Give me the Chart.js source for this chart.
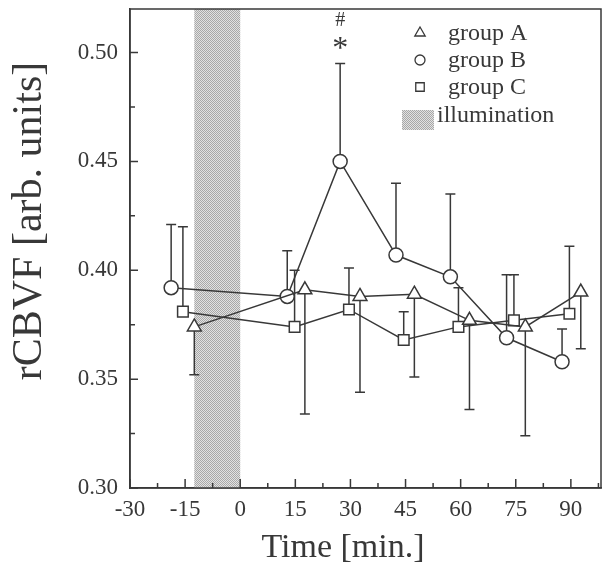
<!DOCTYPE html>
<html>
<head>
<meta charset="utf-8">
<script src="https://cdn.jsdelivr.net/npm/chart.js@4.4.1/dist/chart.umd.min.js"></script>
<style>
  html, body { margin: 0; padding: 0; background: #fff; }
  canvas { display: block; }
</style>
</head>
<body>
<canvas id="chart" width="605" height="568"></canvas>
<script>
// group A (triangles), error bars point down
const timesA = [-12.5, 17.6, 32.6, 47.4, 62.4, 77.6, 92.7];
const valuesA = [0.374, 0.391, 0.388, 0.389, 0.377, 0.374, 0.390];
const errEndA = [0.352, 0.334, 0.344, 0.351, 0.336, 0.324, 0.364];

// group B (circles), error bars point up
const timesB = [-18.8, 12.8, 27.2, 42.4, 57.2, 72.5, 87.6];
const valuesB = [0.392, 0.388, 0.450, 0.407, 0.397, 0.369, 0.358];
const errEndB = [0.421, 0.409, 0.495, 0.440, 0.435, 0.398, 0.373];

// group C (squares), error bars point up
const timesC = [-15.6, 14.8, 29.6, 44.5, 59.4, 74.5, 89.6];
const valuesC = [0.381, 0.374, 0.382, 0.368, 0.374, 0.377, 0.380];
const errEndC = [0.420, 0.400, 0.401, 0.381, 0.392, 0.398, 0.411];

// illumination period (min)
const illumination = [-12.5, 0];

// axes
const xTicks = [-30, -15, 0, 15, 30, 45, 60, 75, 90];
const yTicks = [0.30, 0.35, 0.40, 0.45, 0.50];
const xRange = [-30, 98.2];
const yRange = [0.30, 0.52];

const ink = '#383838';
const serif = 'Liberation Serif';

function toPoints(xs, ys) {
    return xs.map((x, i) => ({ x: x, y: ys[i] }));
}

// dotted gray fill for the illumination band
function makePattern(ctx) {
    const c = document.createElement('canvas');
    c.width = 2; c.height = 2;
    const p = c.getContext('2d');
    p.fillStyle = '#e2e2e2';
    p.fillRect(0, 0, 2, 2);
    p.fillStyle = '#a8a8a8';
    p.fillRect(0, 0, 1, 1);
    p.fillRect(1, 1, 1, 1);
    return ctx.createPattern(c, 'repeat');
}

const errorSets = [errEndA, errEndB, errEndC];

const figurePlugin = {
    id: 'figure',
    beforeDatasetsDraw(chart) {
        const { ctx, chartArea: a, scales: { x, y } } = chart;
        // illumination band
        const x0 = x.getPixelForValue(illumination[0]);
        const x1 = x.getPixelForValue(illumination[1]);
        ctx.save();
        ctx.fillStyle = makePattern(ctx);
        ctx.fillRect(x0, a.top, x1 - x0, a.bottom - a.top);
        ctx.restore();

        // error bars
        ctx.save();
        ctx.strokeStyle = ink;
        ctx.lineWidth = 1.5;
        chart.data.datasets.forEach((ds, di) => {
            ds.data.forEach((pt, i) => {
                const px = x.getPixelForValue(pt.x);
                const py = y.getPixelForValue(pt.y);
                const pe = y.getPixelForValue(errorSets[di][i]);
                ctx.beginPath();
                ctx.moveTo(px, py);
                ctx.lineTo(px, pe);
                ctx.moveTo(px - 5, pe);
                ctx.lineTo(px + 5, pe);
                ctx.stroke();
            });
        });
        ctx.restore();
    },
    afterDraw(chart) {
        const { ctx, chartArea: a, scales: { x, y } } = chart;
        ctx.save();
        ctx.strokeStyle = ink;
        ctx.lineWidth = 1.5;
        // frame
        ctx.strokeRect(a.left, a.top, a.right - a.left, a.bottom - a.top);

        // inward tick marks, minor ones halfway between labels
        ctx.beginPath();
        xTicks.forEach(v => {
            const px = x.getPixelForValue(v);
            ctx.moveTo(px, a.bottom); ctx.lineTo(px, a.bottom - 9);
            const mid = v + 7.5;
            if (mid < xRange[1]) {
                const pm = x.getPixelForValue(mid);
                ctx.moveTo(pm, a.bottom); ctx.lineTo(pm, a.bottom - 5);
            }
        });
        yTicks.forEach(v => {
            const py = y.getPixelForValue(v);
            ctx.moveTo(a.left, py); ctx.lineTo(a.left + 8, py);
            const mid = v + 0.025;
            if (mid < yRange[1]) {
                const pm = y.getPixelForValue(mid);
                ctx.moveTo(a.left, pm); ctx.lineTo(a.left + 5, pm);
            }
        });
        ctx.stroke();

        // axis titles (placed as in the figure, not centred on the plot)
        ctx.fillStyle = ink;
        ctx.textAlign = 'center';
        ctx.textBaseline = 'middle';
        ctx.font = '34px ' + serif;
        ctx.fillText('Time [min.]', 343, 548);
        ctx.save();
        ctx.translate(30, 221);
        ctx.rotate(-Math.PI / 2);
        ctx.font = '42px ' + serif;
        ctx.fillText('rCBVF [arb. units]', 0, 0);
        ctx.restore();

        // significance marks above group B peak
        const peakX = x.getPixelForValue(timesB[2]);
        ctx.font = '32px ' + serif;
        ctx.fillText('*', peakX, 50);
        ctx.font = '20px ' + serif;
        ctx.fillText('#', peakX, 21);

        // legend
        const lx = 420, tx = 448;
        const rows = [
            { style: 'triangle', r: 6, label: 'group A', y: 33 },
            { style: 'circle', r: 5, label: 'group B', y: 60 },
            { style: 'rect', r: 6, label: 'group C', y: 87 }
        ];
        ctx.font = '24px ' + serif;
        ctx.textAlign = 'left';
        rows.forEach(r => {
            ctx.fillStyle = '#fff';
            ctx.strokeStyle = ink;
            ctx.lineWidth = 1.3;
            Chart.helpers.drawPoint(ctx, { pointStyle: r.style, radius: r.r, rotation: 0, borderWidth: 1.3 }, lx, r.y);
            ctx.fillStyle = ink;
            ctx.fillText(r.label, tx, r.y + 1);
        });
        ctx.fillStyle = makePattern(ctx);
        ctx.fillRect(402, 110, 32, 20);
        ctx.fillStyle = ink;
        ctx.fillText('illumination', 437, 116);
        ctx.restore();
    }
};

function series(label, xs, ys, style, radius) {
    return {
        label: label,
        data: toPoints(xs, ys),
        borderColor: ink,
        borderWidth: 1.5,
        pointStyle: style,
        pointRadius: radius,
        pointBorderWidth: 1.5,
        pointBackgroundColor: '#fff',
        pointBorderColor: ink,
        fill: false,
        tension: 0
    };
}

new Chart(document.getElementById('chart'), {
    type: 'line',
    data: {
        datasets: [
            series('group A', timesA, valuesA, 'triangle', 8),
            series('group B', timesB, valuesB, 'circle', 7),
            series('group C', timesC, valuesC, 'rect', 7.5)
        ]
    },
    options: {
        responsive: false,
        animation: false,
        layout: { autoPadding: false, padding: { left: 0, right: 4, top: 9, bottom: 0 } },
        plugins: { legend: { display: false }, tooltip: { enabled: false } },
        scales: {
            x: {
                type: 'linear',
                min: xRange[0],
                max: xRange[1],
                afterBuildTicks: s => { s.ticks = xTicks.map(v => ({ value: v })); },
                afterFit: s => { s.height = 80; s.paddingLeft = 0; s.paddingRight = 0; },
                grid: { display: false, drawTicks: false },
                border: { display: true, color: ink, width: 1.5 },
                ticks: { color: ink, padding: 8, maxRotation: 0, autoSkip: false,
                          font: { family: serif, size: 23 }, callback: v => String(v) },
                title: { display: false }
            },
            y: {
                min: yRange[0],
                max: yRange[1],
                afterBuildTicks: s => { s.ticks = yTicks.map(v => ({ value: v })); },
                afterFit: s => { s.width = 130; s.paddingTop = 0; s.paddingBottom = 0; },
                grid: { display: false, drawTicks: false },
                border: { display: true, color: ink, width: 1.5 },
                ticks: { color: ink, padding: 12, autoSkip: false,
                          font: { family: serif, size: 23 }, callback: v => v.toFixed(2) },
                title: { display: false }
            }
        }
    },
    plugins: [figurePlugin]
});
</script>
</body>
</html>
